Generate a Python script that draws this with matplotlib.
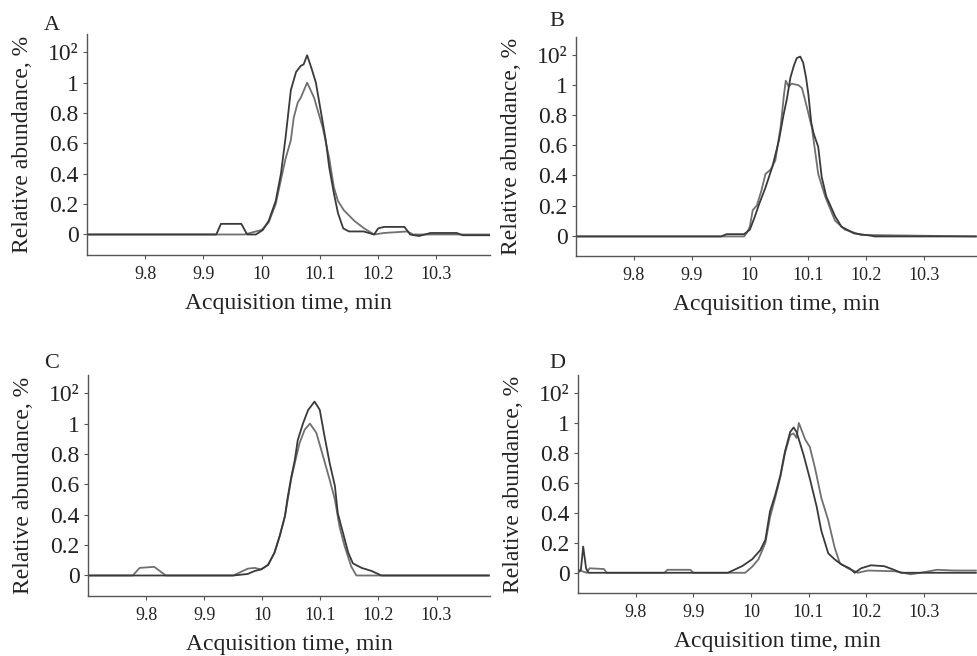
import matplotlib
matplotlib.use("Agg")
import matplotlib.pyplot as plt

plt.rcParams['font.family'] = ['Liberation Serif', 'DejaVu Serif']

# ---------------- data ----------------
panel_labels = ["A", "B", "C", "D"]
x_ticks = [9.8, 9.9, 10.0, 10.1, 10.2, 10.3]
x_tick_labels = ["9.8", "9.9", "10", "10.1", "10.2", "10.3"]
y_ticks = [0, 0.2, 0.4, 0.6, 0.8, 1.0, 1.2]
y_tick_labels = ["0", "0.2", "0.4", "0.6", "0.8", "1", "10²"]

A1_t = [9.70, 9.922, 9.93, 9.965, 9.975, 9.99, 10.002, 10.012, 10.024, 10.033, 10.041, 10.05, 10.059, 10.067,
        10.072, 10.078, 10.085, 10.093, 10.102, 10.110, 10.116, 10.124, 10.131, 10.140, 10.15, 10.175, 10.193,
        10.20, 10.21, 10.245, 10.255, 10.27, 10.29, 10.335, 10.345, 10.395]
A1_y = [0, 0, 0.07, 0.07, 0.0, 0.0, 0.03, 0.09, 0.22, 0.40, 0.64, 0.95, 1.07, 1.11, 1.12, 1.18, 1.10, 1.0, 0.8,
        0.62, 0.44, 0.27, 0.14, 0.04, 0.02, 0.02, 0.0, 0.04, 0.05, 0.05, 0.0, -0.01, 0.01, 0.01, -0.005, -0.005]
A2_t = [9.70, 9.97, 9.98, 9.99, 10.00, 10.012, 10.024, 10.033, 10.041, 10.05, 10.055, 10.062, 10.067, 10.078,
        10.09, 10.105, 10.116, 10.124, 10.131, 10.141, 10.159, 10.176, 10.193, 10.21, 10.25, 10.26, 10.395]
A2_y = [0, 0, 0.01, 0.02, 0.03, 0.08, 0.2, 0.36, 0.5, 0.62, 0.77, 0.87, 0.9, 1.0, 0.9, 0.7, 0.5, 0.31, 0.22,
        0.16, 0.09, 0.04, 0.0, 0.01, 0.02, 0.0, 0]

B1_t = [9.70, 9.95, 9.96, 9.99, 10.00, 10.008, 10.016, 10.027, 10.039, 10.05, 10.058, 10.064, 10.07, 10.076,
        10.081, 10.087, 10.092, 10.097, 10.101, 10.106, 10.11, 10.118, 10.124, 10.132, 10.147, 10.158, 10.18,
        10.209, 10.215, 10.39]
B1_y = [-0.005, -0.005, 0.01, 0.01, 0.04, 0.12, 0.21, 0.32, 0.46, 0.63, 0.8, 0.91, 1.05, 1.13, 1.18, 1.19, 1.15,
        1.05, 0.94, 0.75, 0.68, 0.59, 0.39, 0.26, 0.13, 0.06, 0.015, 0.0, -0.005, -0.005]
B2_t = [9.70, 9.99, 9.995, 10.0, 10.005, 10.012, 10.02, 10.027, 10.036, 10.044, 10.053, 10.059, 10.062, 10.067,
        10.072, 10.084, 10.09, 10.098, 10.107, 10.118, 10.13, 10.147, 10.164, 10.192, 10.39]
B2_y = [-0.005, -0.005, 0.02, 0.06, 0.17, 0.2, 0.3, 0.41, 0.44, 0.5, 0.72, 0.94, 1.03, 0.99, 1.01, 1.0, 0.98,
        0.86, 0.72, 0.41, 0.26, 0.1, 0.04, 0.005, -0.005]

C1_t = [9.70, 9.95, 9.975, 9.987, 9.998, 10.01, 10.021, 10.03, 10.039, 10.044, 10.05, 10.056, 10.061, 10.07,
        10.079, 10.09, 10.099, 10.107, 10.116, 10.125, 10.13, 10.139, 10.148, 10.156, 10.171, 10.188, 10.205, 10.39]
C1_y = [0, 0, 0.01, 0.03, 0.04, 0.07, 0.15, 0.26, 0.39, 0.52, 0.65, 0.76, 0.89, 1.0, 1.09, 1.145, 1.09, 0.92,
        0.74, 0.59, 0.41, 0.28, 0.15, 0.08, 0.05, 0.03, 0.0, 0]
C2_t = [9.70, 9.777, 9.789, 9.814, 9.834, 9.95, 9.975, 9.987, 9.998, 10.01, 10.021, 10.03, 10.039, 10.05,
        10.056, 10.064, 10.073, 10.082, 10.093, 10.105, 10.116, 10.125, 10.133, 10.142, 10.153, 10.162, 10.39]
C2_y = [0, 0, 0.05, 0.057, 0, 0, 0.045, 0.05, 0.04, 0.07, 0.15, 0.26, 0.39, 0.64, 0.74, 0.87, 0.96, 1.0, 0.94,
        0.78, 0.63, 0.5, 0.32, 0.19, 0.06, 0.0, 0]

D1_t = [9.70, 9.705, 9.709, 9.714, 9.718, 9.96, 9.985, 10.002, 10.016, 10.025, 10.033, 10.042, 10.051, 10.059,
        10.068, 10.074, 10.079, 10.091, 10.102, 10.114, 10.122, 10.134, 10.145, 10.157, 10.171, 10.18, 10.191,
        10.208, 10.231, 10.248, 10.26, 10.39]
D1_y = [0, 0.02, 0.175, 0.03, 0.0, 0, 0.045, 0.09, 0.15, 0.22, 0.41, 0.52, 0.65, 0.81, 0.94, 0.97, 0.94, 0.79,
        0.63, 0.44, 0.28, 0.13, 0.09, 0.055, 0.03, 0.0, 0.03, 0.05, 0.044, 0.02, 0.0, 0]
D2_t = [9.70, 9.715, 9.72, 9.745, 9.75, 9.85, 9.855, 9.895, 9.9, 9.99, 10.002, 10.013, 10.025, 10.033, 10.042,
        10.051, 10.059, 10.068, 10.074, 10.079, 10.083, 10.094, 10.102, 10.111, 10.122, 10.134, 10.145, 10.154,
        10.168, 10.18, 10.185, 10.203, 10.25, 10.277, 10.294, 10.323, 10.352, 10.39]
D2_y = [0.02, 0.0, 0.03, 0.025, 0.0, 0.0, 0.02, 0.02, 0.0, 0.0, 0.04, 0.09, 0.2, 0.37, 0.5, 0.64, 0.8, 0.92,
        0.93, 0.9, 1.0, 0.89, 0.84, 0.7, 0.5, 0.35, 0.17, 0.065, 0.03, 0.01, 0.0, 0.015, 0.01, -0.01, 0.0, 0.02,
        0.015, 0.015]

series = [
    ((A1_t, A1_y), (A2_t, A2_y)),
    ((B1_t, B1_y), (B2_t, B2_y)),
    ((C1_t, C1_y), (C2_t, C2_y)),
    ((D1_t, D1_y), (D2_t, D2_y)),
]

# ---------------- layout ----------------
W, H = 977, 656
fig = plt.figure(figsize=(W / 100, H / 100), dpi=100)

# axes boxes in pixel coords: left, top, right, bottom
boxes = [(87, 34, 490, 255), (576, 37, 977, 256), (88, 375, 490, 596), (578, 375, 977, 593)]
letter_pos = [(52, 25), (557, 22), (52, 363), (557, 363)]

spine_col = "#555555"
col1, col2 = "#3a3a3a", "#707070"

for i, (l, t, r, b) in enumerate(boxes):
    ax = fig.add_axes([l / W, (H - b) / H, (r - l) / W, (b - t) / H])
    (t1, y1), (t2, y2) = series[i]
    ax.plot(t2, y2, color=col2, lw=1.3)
    ax.plot(t1, y1, color=col1, lw=1.3)
    ax.set_xlim(9.70, 10.392)
    ax.set_ylim(-0.135, 1.32)
    ax.set_xticks(x_ticks)
    ax.set_xticklabels(x_tick_labels, fontsize=13)
    ax.set_yticks(y_ticks)
    ax.set_yticklabels(y_tick_labels, fontsize=17)
    for s in ("top", "right"):
        ax.spines[s].set_visible(False)
    for s in ("left", "bottom"):
        ax.spines[s].set_color(spine_col)
        ax.spines[s].set_linewidth(1.0)
    ax.tick_params(axis="both", direction="out", length=3, width=0.8, color=spine_col,
                   labelcolor="#222222", pad=3)
    ax.tick_params(axis="x", pad=5)
    ax.set_xlabel("Acquisition time, min", fontsize=17, color="#222222", labelpad=7)
    ax.set_ylabel("Relative abundance, %", fontsize=17, color="#222222")
    ax.yaxis.set_label_coords(-54 / (r - l), 0.5)
    ax.patch.set_alpha(0)
    lx, ly = letter_pos[i]
    fig.text(lx / W, 1 - ly / H, panel_labels[i], fontsize=16, ha="center", va="center", color="#222222")

fig.savefig("out.png", dpi=100)
